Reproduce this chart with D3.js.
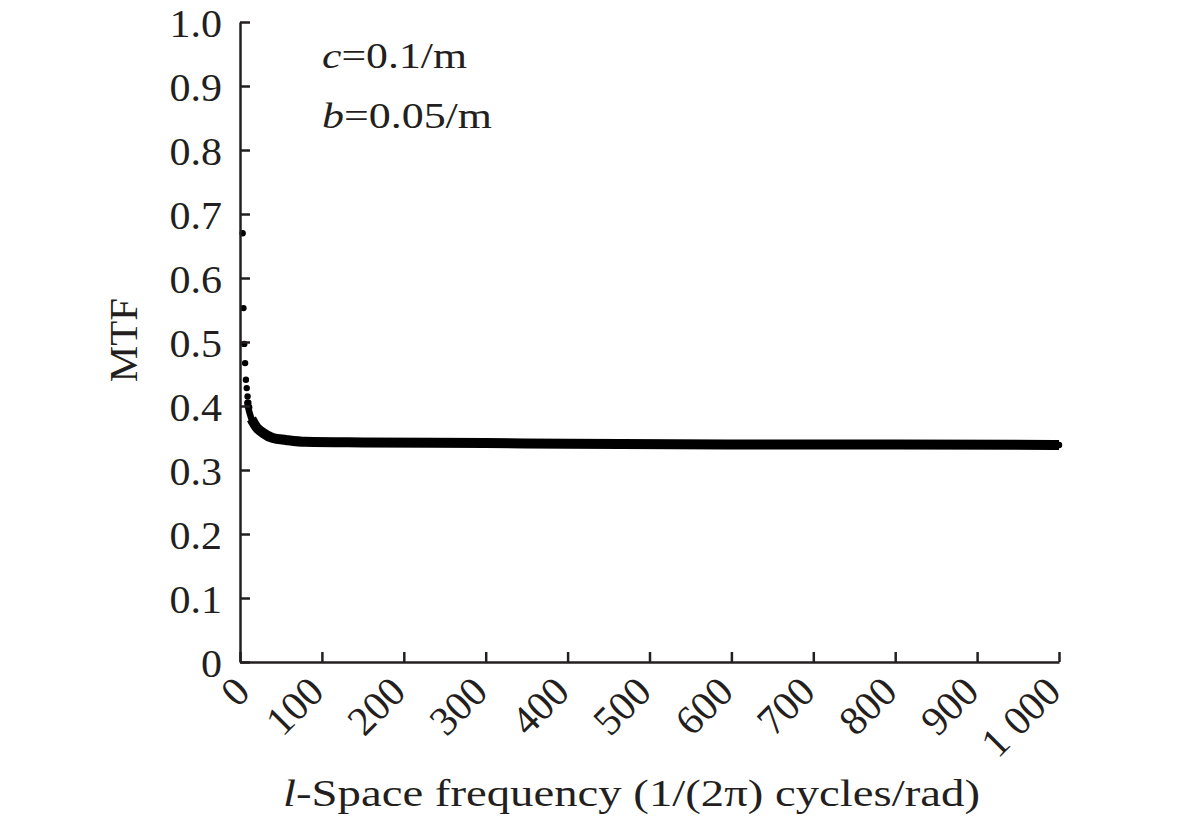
<!DOCTYPE html>
<html><head><meta charset="utf-8">
<script src="https://cdn.jsdelivr.net/npm/d3@7"></script>
<style>
html,body{margin:0;padding:0;background:#fff;}
svg{display:block;}
text{font-family:"Liberation Serif","Times New Roman",serif;fill:#231f20;}
</style></head>
<body><svg id="c" width="1182" height="826"></svg>
<script>
// Data
const freq = [2,3,4,5,6,7,8,9,10,12,14,17,20,28,40,56,80,150,300,400,600,800,1000];
const mtf  = [0.670,0.553,0.497,0.467,0.441,0.428,0.415,0.405,0.398,0.388,0.380,0.373,0.367,0.358,0.350,0.347,0.344,0.343,0.342,0.341,0.340,0.340,0.339];
const xTicks = [0,100,200,300,400,500,600,700,800,900,1000];
const xTickLabels = ["0","100","200","300","400","500","600","700","800","900","1 000"];
const yTicks = [0,0.1,0.2,0.3,0.4,0.5,0.6,0.7,0.8,0.9,1.0];
const yTickLabels = ["0","0.1","0.2","0.3","0.4","0.5","0.6","0.7","0.8","0.9","1.0"];

const svg = d3.select("#c");
const x = d3.scaleLinear().domain([0,1000]).range([240,1059]);
const y = d3.scaleLinear().domain([0,1]).range([662,22]);
const ink = "#231f20";

// curve
const pts = freq.map((f,i)=>({f, v: mtf[i]}));
const line = d3.line().x(d=>x(d.f)).y(d=>y(d.v)).curve(d3.curveMonotoneX);
svg.append("path").datum(pts.filter(d=>d.f>=9))
  .attr("d", line).attr("fill","none").attr("stroke","#000")
  .attr("stroke-width",6.5).attr("stroke-linejoin","round").attr("stroke-linecap","round");
svg.append("path").datum(pts.filter(d=>d.f>=14))
  .attr("d", line).attr("fill","none").attr("stroke","#000")
  .attr("stroke-width",10).attr("stroke-linejoin","round");
svg.selectAll("circle.pt").data(pts.filter(d=>d.f<=10)).join("circle")
  .attr("class","pt").attr("cx",d=>x(d.f)+1).attr("cy",d=>y(d.v)).attr("r",3.2).attr("fill","#000");

// axes
const xAxis = svg.append("g").attr("transform","translate(0,662)")
  .call(d3.axisBottom(x).tickValues(xTicks).tickSizeInner(-10).tickSizeOuter(0).tickFormat(""));
const yAxis = svg.append("g").attr("transform","translate(240,0)")
  .call(d3.axisLeft(y).tickValues(yTicks).tickSizeInner(-10).tickSizeOuter(0).tickFormat(""));
[xAxis,yAxis].forEach(g=>{
  g.select(".domain").attr("stroke",ink).attr("stroke-width",2.5);
  g.selectAll(".tick line").attr("stroke",ink).attr("stroke-width",2.5);
});

// y tick labels
svg.append("g").selectAll("text").data(yTicks).join("text")
  .attr("transform",d=>`translate(222,${y(d)+15}) scale(1.05,1)`)
  .attr("text-anchor","end").attr("font-size",40)
  .text((d,i)=>yTickLabels[i]);

// x tick labels
svg.append("g").selectAll("text").data(xTicks).join("text")
  .attr("transform",d=>`translate(${x(d)+(d===0?12:4)},694) rotate(-45)`)
  .attr("text-anchor","end").attr("font-size",41)
  .text((d,i)=>xTickLabels[i]);

// axis titles
const xt = svg.append("text").attr("x",283).attr("y",806).attr("font-size",38)
  .attr("textLength",697).attr("lengthAdjust","spacingAndGlyphs");
xt.append("tspan").attr("font-style","italic").text("l");
xt.append("tspan").text("-Space frequency (1/(2π) cycles/rad)");

svg.append("text").attr("transform","translate(137,340) rotate(-90)")
  .attr("text-anchor","middle").attr("font-size",41).text("MTF");

// annotations
const a1 = svg.append("text").attr("x",322).attr("y",68).attr("font-size",36)
  .attr("textLength",145).attr("lengthAdjust","spacingAndGlyphs");
a1.append("tspan").attr("font-style","italic").text("c");
a1.append("tspan").text("=0.1/m");
const a2 = svg.append("text").attr("x",322).attr("y",128).attr("font-size",36)
  .attr("textLength",170).attr("lengthAdjust","spacingAndGlyphs");
a2.append("tspan").attr("font-style","italic").text("b");
a2.append("tspan").text("=0.05/m");
</script></body></html>
